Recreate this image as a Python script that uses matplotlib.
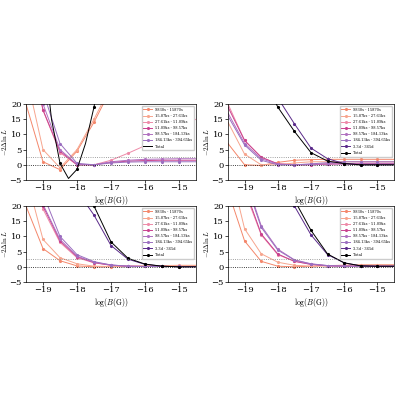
import matplotlib
matplotlib.use("Agg")
import matplotlib.pyplot as plt

plt.rcParams['mathtext.fontset'] = 'cm'
plt.rcParams['font.family'] = 'DejaVu Serif'

x = [-19.5, -19, -18.5, -18, -17.5, -17, -16.5, -16, -15.5, -15, -14.5]
x_total1 = [-19.5, -19.25, -19, -18.75, -18.5, -18.25, -18, -17.75, -17.5, -17.25, -17]

labels6 = ["9830s - 15870s", "15.87ks - 27.61ks", "27.61ks - 51.09ks", "51.09ks - 98.57ks",
           "98.57ks - 184.13ks", "184.13ks - 394.65ks"]
label_long = "3.3d - 365d"
label_total = "Total"

# panel 1 (top-left)
p1 = [
    [20, 1, -1.6, 4.5, 14, 25, 37, 45, 50, 55, 60],
    [30, 5, -1, 5, 15, 26, 38, 45, 50, 55, 60],
    [45, 18, 4, 0, 0, 1.5, 3.8, 6.3, 9, 12, 15],
    [45, 18, 4.5, 0, 0, 0.8, 1.2, 1.4, 1.5, 1.5, 1.5],
    [45, 20, 5, 0.2, 0, 1, 1.5, 1.8, 1.9, 2, 2],
    [50, 24, 7, 0.5, 0, 0.6, 0.9, 1, 1, 1, 1],
]
p1_total = [80, 60, 40, 15, 0.5, -4.5, -1.5, 7, 19, 35, 55]

# panel 2 (top-right)
p2 = [
    [7, 0, -0.2, 0.8, 1.5, 1.7, 1.8, 1.8, 1.8, 1.8, 1.8],
    [14, 3.5, 0, 0, 0.6, 1, 1, 1, 1, 1, 1],
    [20, 8, 2.5, 0.3, 0, 0.2, 0.3, 0.3, 0.3, 0.3, 0.3],
    [19, 8, 2.5, 0.3, 0, 0, 0.2, 0.4, 0.5, 0.5, 0.5],
    [17, 7, 2, 0.2, 0, 0.1, 0.3, 0.3, 0.3, 0.3, 0.3],
    [16, 6.5, 1.5, 0, 0, 0.3, 0.7, 1, 1, 1, 1],
    [100, 60, 35, 22, 13.5, 5.5, 2, 0.4, 0, 0, 0],
]
p2_total = [90, 50, 30, 19, 11, 4, 1.2, 0.4, 0, 0, 0]

# panel 3 (bottom-left)
p3 = [
    [20, 6, 2, 0.3, 0, 0, 0.1, 0.2, 0.3, 0.3, 0.3],
    [30, 9, 3, 1, 0.2, 0.1, 0.2, 0.3, 0.4, 0.5, 0.5],
    [45, 19, 8, 3, 1.3, 0.5, 0.2, 0.1, 0.1, 0.1, 0.1],
    [46, 20, 8.5, 3.3, 1.4, 0.5, 0.2, 0.1, 0.1, 0.1, 0.1],
    [47, 20.5, 9, 3.5, 1.5, 0.6, 0.2, 0.1, 0.1, 0.1, 0.1],
    [50, 24, 10, 4, 1.7, 0.6, 0.2, 0.1, 0.1, 0.1, 0.1],
    [150, 90, 45, 25, 17, 7, 2.5, 0.8, 0.2, 0, 0],
]
p3_total = [160, 100, 55, 30, 20, 8.2, 2.8, 0.9, 0.2, 0, 0]

# panel 4 (bottom-right)
p4 = [
    [25, 8.5, 1.8, 0.2, 0, 0.2, 0.4, 0.5, 0.6, 0.6, 0.6],
    [35, 12.5, 4.3, 1.5, 0.5, 0.2, 0.3, 0.5, 0.6, 0.7, 0.7],
    [55, 25, 10.5, 4, 1.8, 0.8, 0.3, 0.2, 0.2, 0.2, 0.2],
    [56, 26, 10.8, 4.2, 1.8, 0.8, 0.3, 0.2, 0.2, 0.2, 0.2],
    [65, 30, 13.5, 5.8, 2.3, 1, 0.4, 0.2, 0.2, 0.2, 0.2],
    [64, 29, 13, 5.5, 2.2, 0.9, 0.4, 0.2, 0.2, 0.2, 0.2],
    [180, 100, 50, 28, 20, 10.5, 4, 1.3, 0.3, 0.1, 0.1],
]
p4_total = [200, 110, 60, 32, 22, 12, 4.2, 1.3, 0.3, 0.2, 0.2]

colors = ['#f4876b', '#f7a58e', '#ee8aa8', '#c9418f', '#b070c0', '#9b6fc0', '#5a2a8a']

fig = plt.figure(figsize=(4, 4), dpi=100)
rects = [[0.065, 0.55, 0.425, 0.19], [0.57, 0.55, 0.415, 0.19],
         [0.065, 0.295, 0.425, 0.19], [0.57, 0.295, 0.415, 0.19]]
panels = [(p1, p1_total, x_total1, 6), (p2, p2_total, x, 7),
          (p3, p3_total, x, 7), (p4, p4_total, x, 7)]

for rect, (curves, tot, xt, n) in zip(rects, panels):
    ax = fig.add_axes(rect)
    labs = labels6 + ([label_long] if n == 7 else [])
    for i, (c, lab) in enumerate(zip(curves, labs)):
        col = colors[i] if i < 6 else colors[6]
        ax.plot(x, c, color=col, lw=0.7, marker='.', ms=2.5, markevery=slice(1, 10), label=lab)
    if xt is x:
        ax.plot(xt, tot, color='black', lw=0.7, marker='.', ms=2.5, markevery=slice(1, 10), label=label_total)
    else:
        ax.plot(xt, tot, color='black', lw=0.7, label=label_total)
        ax.plot(xt[2::2], tot[2::2], 'k.', ms=2.5)
    ax.axhline(0, color='black', ls=':', lw=0.6)
    ax.axhline(2.71, color='gray', ls=':', lw=0.6)
    ax.set_xlim(-19.5, -14.5)
    ax.set_ylim(-5, 20)
    ax.set_xticks([-19, -18, -17, -16, -15])
    ax.set_yticks([-5, 0, 5, 10, 15, 20])
    ax.tick_params(labelsize=6, length=2, width=0.5, pad=1)
    for s in ax.spines.values():
        s.set_linewidth(0.5)
    ax.set_ylabel(r'$-2\Delta\ln L$', fontsize=5, labelpad=0)
    ax.set_xlabel(r'$\log(B(\mathrm{G}))$', fontsize=5.5, labelpad=1)
    ax.legend(loc='upper right', fontsize=2.6, frameon=True, handlelength=2.5,
              borderpad=0.5, labelspacing=0.6, framealpha=1, edgecolor='#cccccc')

fig.savefig('out.png', dpi=100)
